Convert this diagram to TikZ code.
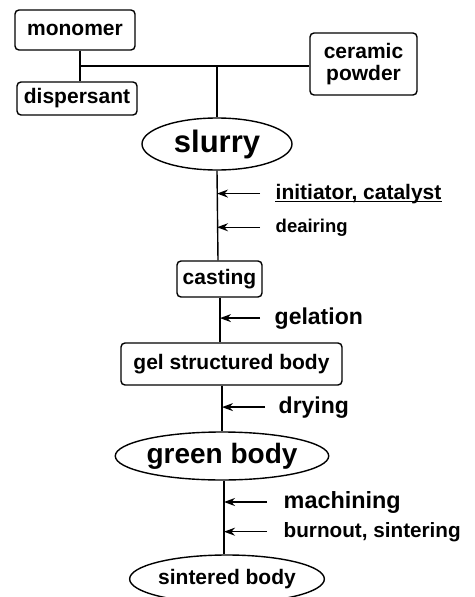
\documentclass[tikz,border=0pt]{standalone}
\usepackage{fontspec}
\setmainfont{Liberation Sans}
\usetikzlibrary{arrows.meta,shapes.geometric}
\begin{document}
\begin{tikzpicture}[x=1pt,y=-1pt,line width=1.4pt,
  rbox/.style={draw,rounded corners=4pt,inner sep=0pt,align=center,font=\fontsize{21}{24}\selectfont\bfseries},
  ell/.style={draw,ellipse,inner sep=0pt},
  lab/.style={inner sep=0pt,anchor=base west},
  arr/.style={-{Stealth[length=11pt,width=8pt]},line width=1.4pt}]
\useasboundingbox (0,0) rectangle (474,597);
% boxes
\node[rbox,minimum width=120pt,minimum height=40pt] (monomer) at (75,30) {monomer};
\node[rbox,minimum width=120pt,minimum height=33pt] (disp) at (77,98.5) {dispersant};
\node[rbox,minimum width=107pt,minimum height=62pt] (ceramic) at (363.5,64) {ceramic\\[-2pt]powder};
\node[ell,minimum width=150pt,minimum height=52pt,font=\fontsize{31}{34}\selectfont\bfseries] (slurry) at (217,144) {slurry};
\node[rbox,minimum width=85pt,minimum height=36pt] (casting) at (219.5,279) {casting};
\node[rbox,minimum width=221pt,minimum height=42pt] (gel) at (231.5,364) {gel structured body};
\node[ell,minimum width=190pt,minimum height=48pt,font=\fontsize{28}{30}\selectfont\bfseries] (green) at (222,456) {green body};
\node[ell,minimum width=185pt,minimum height=48pt,font=\fontsize{21}{24}\selectfont\bfseries] (sint) at (227,579) {sintered body};
% junctions
\coordinate (j1) at (80,66);
\coordinate (j2) at (217,66);
\draw (monomer.south -| j1) -- (disp.north -| j1);
\draw (j1) -- (ceramic.west |- j1);
\draw (j2) -- (slurry.north);
% main chain
\coordinate (c1) at (218,261);
\coordinate (c2) at (220,297);
\coordinate (c3) at (222,385);
\coordinate (c4) at (224,480);
\draw (slurry.south) -- (casting.north -| c1);
\draw (casting.south -| c2) -- (gel.north -| c2);
\draw (gel.south -| c3) -- (green.north);
\draw (green.south -| c4) -- (sint.north -| c4);
% labels
\node[lab,font=\fontsize{21}{24}\selectfont\bfseries] (init) at (275,199) {initiator, catalyst};
\node[lab,font=\fontsize{18.5}{22}\selectfont\bfseries] (deair) at (275,232) {deairing};
\node[lab,font=\fontsize{23}{26}\selectfont\bfseries] (gelat) at (274,324) {gelation};
\node[lab,font=\fontsize{23}{26}\selectfont\bfseries] (dry) at (278,413) {drying};
\node[lab,font=\fontsize{23.4}{26}\selectfont\bfseries] (mach) at (283,508) {machining};
\node[lab,font=\fontsize{20.7}{24}\selectfont\bfseries] (burn) at (283,537) {burnout, sintering};
\draw ([yshift=-2.5pt]init.base west) -- ([yshift=-2.5pt]init.base east);
% arrows
\draw[arr] ([xshift=-15pt]init.west) -- (init.west -| slurry.south);
\draw[arr] ([xshift=-15pt]deair.west) -- (deair.west -| slurry.south);
\draw[arr] ([xshift=-14pt]gelat.west) -- (gelat.west -| c2);
\draw[arr] ([xshift=-13pt]dry.west) -- (dry.west -| c3);
\draw[arr] ([xshift=-16pt]mach.west) -- (mach.west -| c4);
\draw[arr] ([xshift=-16pt]burn.west) -- (burn.west -| c4);
\end{tikzpicture}
\end{document}
